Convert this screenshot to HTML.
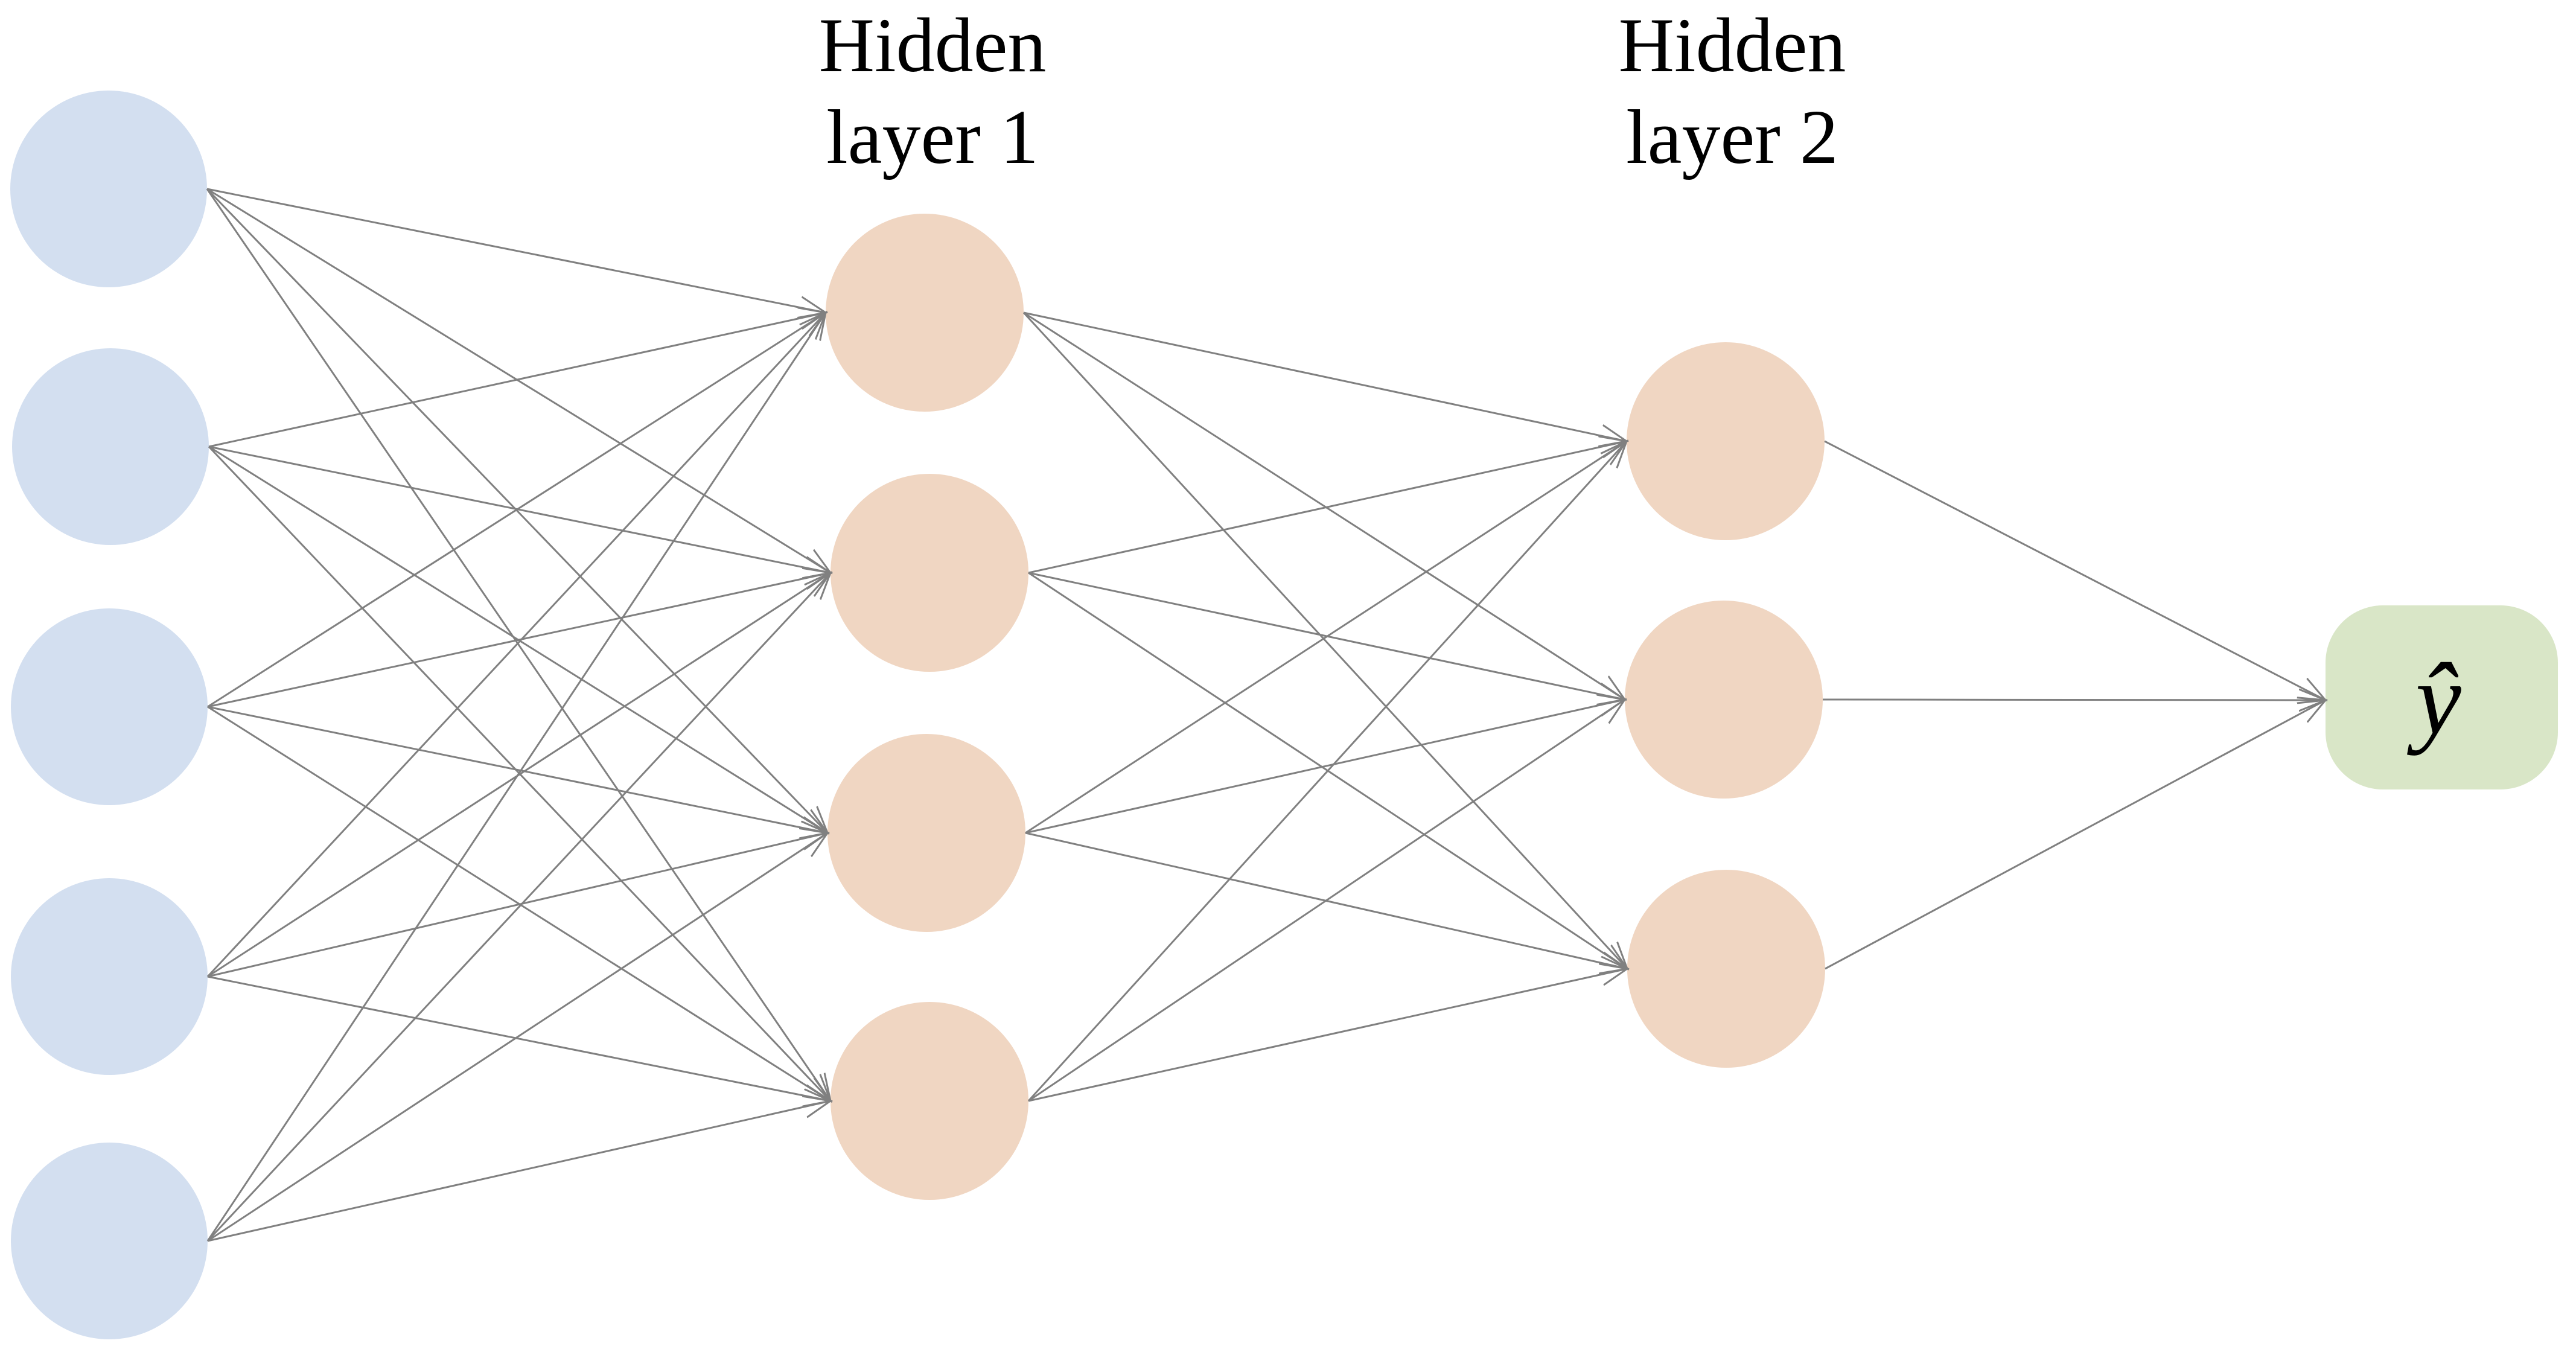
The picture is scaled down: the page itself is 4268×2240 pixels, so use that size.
<!DOCTYPE html>
<html><head><meta charset="utf-8"><style>
html,body{margin:0;padding:0;background:#fff;}
svg{display:block;}
svg text{font-family:"Liberation Serif", serif;}
</style></head><body>
<svg width="4268" height="2240" viewBox="0 0 4268 2240" xmlns="http://www.w3.org/2000/svg">
<defs>
<marker id="a" markerUnits="userSpaceOnUse" markerWidth="50" markerHeight="50" refX="44" refY="20" orient="auto" viewBox="0 0 50 40">
<path d="M0,2 L44,20 L0,38" fill="none" stroke="#808080" stroke-width="3"/>
</marker>
</defs>
<g fill="#d3dff0">
<circle cx="180" cy="313" r="163"/>
<circle cx="183" cy="740" r="163"/>
<circle cx="181" cy="1171" r="163"/>
<circle cx="181" cy="1618" r="163"/>
<circle cx="181" cy="2056" r="163"/>
</g>
<g fill="#f0d6c2">
<circle cx="1532" cy="518" r="164"/>
<circle cx="1540" cy="949" r="164"/>
<circle cx="1535" cy="1380" r="164"/>
<circle cx="1540" cy="1824" r="164"/>
<circle cx="2859" cy="731" r="164"/>
<circle cx="2856" cy="1159" r="164"/>
<circle cx="2860" cy="1605" r="164"/>
</g>
<rect x="3853" y="1003" width="385" height="305" rx="95" ry="95" fill="#d9e6c7"/>
<g stroke="#808080" stroke-width="3" fill="none" marker-end="url(#a)">
<line x1="343" y1="313" x2="1368" y2="518"/>
<line x1="343" y1="313" x2="1376" y2="949"/>
<line x1="343" y1="313" x2="1371" y2="1380"/>
<line x1="343" y1="313" x2="1376" y2="1824"/>
<line x1="346" y1="740" x2="1368" y2="518"/>
<line x1="346" y1="740" x2="1376" y2="949"/>
<line x1="346" y1="740" x2="1371" y2="1380"/>
<line x1="346" y1="740" x2="1376" y2="1824"/>
<line x1="344" y1="1171" x2="1368" y2="518"/>
<line x1="344" y1="1171" x2="1376" y2="949"/>
<line x1="344" y1="1171" x2="1371" y2="1380"/>
<line x1="344" y1="1171" x2="1376" y2="1824"/>
<line x1="344" y1="1618" x2="1368" y2="518"/>
<line x1="344" y1="1618" x2="1376" y2="949"/>
<line x1="344" y1="1618" x2="1371" y2="1380"/>
<line x1="344" y1="1618" x2="1376" y2="1824"/>
<line x1="344" y1="2056" x2="1368" y2="518"/>
<line x1="344" y1="2056" x2="1376" y2="949"/>
<line x1="344" y1="2056" x2="1371" y2="1380"/>
<line x1="344" y1="2056" x2="1376" y2="1824"/>
<line x1="1696" y1="518" x2="2695" y2="731"/>
<line x1="1696" y1="518" x2="2692" y2="1159"/>
<line x1="1696" y1="518" x2="2696" y2="1605"/>
<line x1="1704" y1="949" x2="2695" y2="731"/>
<line x1="1704" y1="949" x2="2692" y2="1159"/>
<line x1="1704" y1="949" x2="2696" y2="1605"/>
<line x1="1699" y1="1380" x2="2695" y2="731"/>
<line x1="1699" y1="1380" x2="2692" y2="1159"/>
<line x1="1699" y1="1380" x2="2696" y2="1605"/>
<line x1="1704" y1="1824" x2="2695" y2="731"/>
<line x1="1704" y1="1824" x2="2692" y2="1159"/>
<line x1="1704" y1="1824" x2="2696" y2="1605"/>
<line x1="3023" y1="731" x2="3853" y2="1160"/>
<line x1="3020" y1="1159" x2="3853" y2="1160"/>
<line x1="3024" y1="1605" x2="3853" y2="1160"/>
</g>
<g font-family="Liberation Serif, serif" font-size="128" text-anchor="middle" fill="#000">
<text x="1545" y="118" font-family="Liberation Serif, serif">Hidden</text>
<text x="1545" y="270" font-family="Liberation Serif, serif">layer 1</text>
<text x="2870" y="118" font-family="Liberation Serif, serif">Hidden</text>
<text x="2870" y="270" font-family="Liberation Serif, serif">layer 2</text>
<text x="4040" y="1215" font-style="italic" font-size="170" font-family="Liberation Serif, serif">ŷ</text>
</g>
</svg>
</body></html>
